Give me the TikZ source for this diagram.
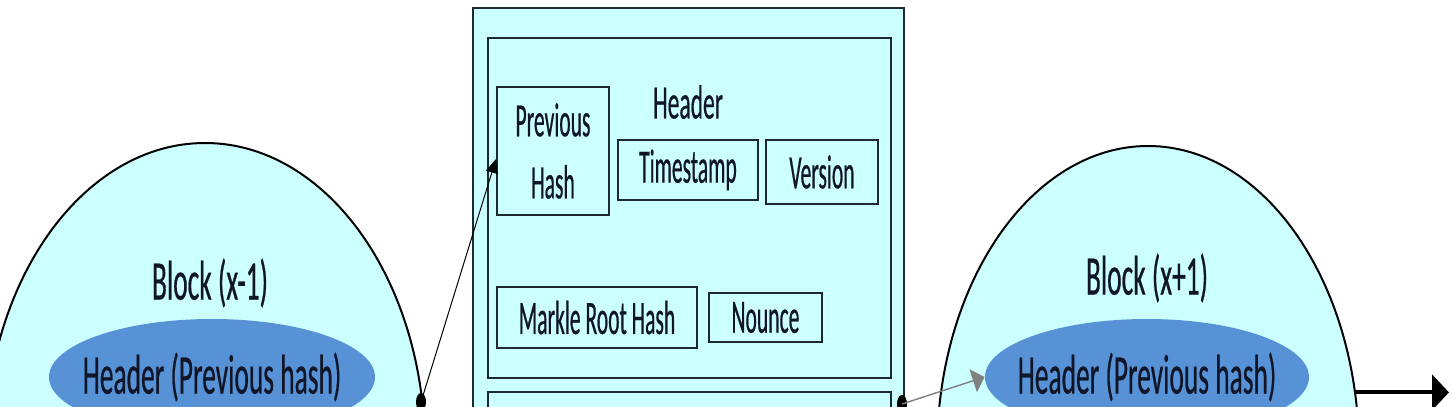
\documentclass[tikz,border=0pt]{standalone}
\usepackage{fontspec}
\newfontfamily\bigfont[FakeStretch=0.49,FakeBold=0.4]{Carlito}
\newfontfamily\smallfont[FakeStretch=0.45,FakeBold=0.4]{Carlito}
\usetikzlibrary{arrows.meta, shapes.geometric, positioning}
\definecolor{blockfill}{RGB}{204, 255, 255}
\definecolor{hdrblue}{RGB}{88, 146, 214}
\definecolor{framecol}{RGB}{28, 42, 46}
\definecolor{inkcol}{RGB}{16, 22, 40}

\begin{document}
\begin{tikzpicture}[x=0.5pt,y=-0.5pt,
	blockcirc/.style={ellipse, draw=black, line width=1pt, fill=blockfill, inner sep=0pt},
	hdroval/.style={ellipse, fill=hdrblue, inner sep=0pt, minimum width=163pt, minimum height=58pt},
	panel/.style={rectangle, draw=framecol, line width=1.1pt, fill=blockfill, anchor=north west, inner sep=0pt},
	field/.style={rectangle, draw=framecol, line width=1pt, inner sep=0pt, text=inkcol, font=\smallfont\fontsize{24}{25}\selectfont},
	bigtext/.style={text=inkcol, inner sep=0pt, font=\bigfont\fontsize{28}{30}\selectfont},
	link/.style={-{Triangle[length=7pt,width=6pt]}, line width=0.5pt}]
	\useasboundingbox (0,0) rectangle (1452,407);
	\clip (0,0) rectangle (1452,407);
	
	\node[blockcirc, minimum width=220pt, minimum height=307pt] (prevblk) at (205,450) {};
	\node[hdroval, label={[bigtext]center:Header (Previous hash)}] (prevhdr) at (212,377) {};
	\node[bigtext] (prevname) at (210,283) {Block (x-1)};
	
	\node[blockcirc, minimum width=211pt, minimum height=306pt] (nextblk) at (1148,452) {};
	\node[hdroval, minimum width=162pt, label={[bigtext]center:Header (Previous hash)}] (nexthdr) at (1147,377) {};
	\node[bigtext] (nextname) at (1147,278) {Block (x+1)};
	
	\node[panel, minimum width=215.5pt, minimum height=500pt] (blk) at (472,7) {};
	\node[panel, minimum width=201.5pt, minimum height=170pt] (hdr) at (487,37) {};
	\node[panel, minimum width=201.5pt, minimum height=100pt] (body) at (487,391) {};
	
	\node[bigtext, font=\bigfont\fontsize{24}{26}\selectfont] (hdrname) at (688,102) {Header};
	\node[field, minimum width=56pt, minimum height=64pt, align=center] (prevhash) at (553,151) {Previous\\[6pt]Hash};
	\node[field, minimum width=70pt, minimum height=30pt] (tstamp) at (688,170) {Timestamp};
	\node[field, minimum width=56pt, minimum height=32pt] (version) at (822,172) {Version};
	\node[field, minimum width=100pt, minimum height=30.5pt] (merkle) at (597,317.5) {Markle Root Hash};
	\node[field, minimum width=56.5pt, minimum height=24.5pt] (nonce) at (765.5,317.5) {Nounce};
	
	\coordinate (dotprev) at (421,402);
	\coordinate (dotblk) at (902,404);
	\coordinate (chainend) at (1449,392);
	\fill (dotprev) ellipse [x radius=2.5pt, y radius=4.5pt];
	\fill (dotblk) ellipse [x radius=2.5pt, y radius=4.5pt];
	
	\draw[link] (dotprev) -- ([yshift=-4pt]prevhash.west);
	\draw[link, draw=gray, line width=0.7pt, -{Triangle[length=6pt,width=12pt]}] (dotblk) -- (nexthdr.west);
	\draw[line width=2pt, -{Triangle[length=8.5pt,width=17.5pt]}] (nextblk.16.5) -- (nextblk.16.5 -| chainend);
\end{tikzpicture}
\end{document}
